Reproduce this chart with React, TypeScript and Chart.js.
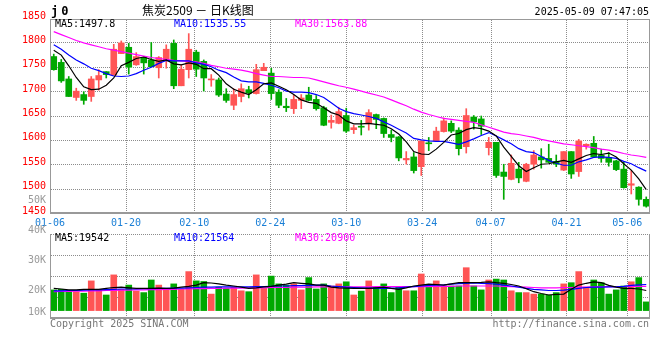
import React, { useEffect, useRef } from 'react';
import { Chart, registerables } from 'chart.js';

Chart.register(...registerables);

// ---------- data ----------
const dates = [
  '01-06','01-07','01-08','01-09','01-10','01-13','01-14','01-15','01-16','01-17',
  '01-20','01-21','01-22','01-23','01-24','01-27','02-05','02-06','02-07','02-10',
  '02-11','02-12','02-13','02-14','02-17','02-18','02-19','02-20','02-21','02-24',
  '02-25','02-26','02-27','02-28','03-03','03-04','03-05','03-06','03-07','03-10',
  '03-11','03-12','03-13','03-14','03-17','03-18','03-19','03-20','03-21','03-24',
  '03-25','03-26','03-27','03-28','03-31','04-01','04-02','04-03','04-07','04-08',
  '04-09','04-10','04-11','04-14','04-15','04-16','04-17','04-18','04-21','04-22',
  '04-23','04-24','04-25','04-28','04-29','04-30','05-06','05-07','05-08','05-09',
];

const opens = [
  1771,1759,1725,1687,1693,1689,1723,1740,1733,1777,
  1790,1754,1769,1764,1748,1765,1798,1711,1744,1780,
  1761,1723,1723,1694,1671,1689,1703,1695,1742,1737,
  1698,1669,1664,1681,1692,1683,1666,1636,1634,1650,
  1621,1628,1633,1652,1644,1611,1606,1559,1565,1545,
  1594,1598,1617,1634,1620,1586,1647,1643,1584,1595,
  1534,1519,1540,1515,1550,1565,1562,1556,1538,1576,
  1535,1588,1593,1569,1564,1557,1540,1507,1503,1478,
];
const highs = [
  1776,1765,1730,1706,1699,1730,1744,1740,1796,1803,
  1798,1779,1769,1800,1771,1795,1805,1754,1818,1784,
  1764,1734,1727,1705,1705,1715,1710,1755,1757,1747,
  1703,1685,1692,1693,1708,1691,1669,1651,1667,1665,
  1630,1640,1662,1653,1645,1620,1607,1576,1574,1598,
  1605,1626,1645,1639,1625,1664,1650,1649,1605,1595,
  1550,1569,1554,1552,1578,1582,1591,1569,1576,1576,
  1601,1592,1607,1581,1574,1558,1554,1537,1504,1483,
];
const lows = [
  1743,1718,1689,1681,1673,1679,1702,1727,1733,1777,
  1735,1753,1735,1750,1727,1747,1705,1711,1727,1730,
  1700,1710,1689,1677,1662,1678,1686,1694,1742,1683,
  1666,1658,1654,1664,1680,1661,1629,1624,1633,1615,
  1613,1610,1620,1623,1605,1596,1557,1550,1532,1527,
  1578,1597,1616,1615,1569,1573,1622,1611,1569,1523,
  1478,1518,1512,1514,1540,1542,1553,1545,1537,1521,
  1525,1581,1564,1554,1546,1537,1501,1489,1466,1462,
];
const closes = [
  1744,1721,1689,1700,1681,1725,1732,1734,1786,1799,
  1749,1771,1758,1750,1769,1786,1711,1745,1786,1745,
  1727,1724,1692,1681,1693,1705,1696,1744,1749,1695,
  1671,1666,1683,1686,1681,1664,1630,1640,1658,1618,
  1625,1626,1656,1642,1613,1605,1563,1562,1537,1598,
  1592,1618,1639,1618,1582,1650,1637,1628,1595,1527,
  1525,1552,1522,1550,1569,1559,1554,1550,1576,1530,
  1598,1591,1565,1562,1554,1539,1502,1510,1478,1464,
];

const ma5 = [
  1784,1774,1752,1728,1709,1703,1704,1712,1727,1752,
  1759,1767,1770,1765,1761,1764,1756,1754,1758,1755,
  1746,1746,1733,1715,1704,1698,1693,1703,1715,1717,
  1710,1703,1693,1682,1677,1675,1666,1656,1651,1639,
  1633,1633,1634,1632,1630,1623,1612,1596,1576,1571,
  1570,1581,1595,1610,1613,1621,1625,1623,1618,1608,
  1585,1566,1547,1535,1543,1550,1551,1555,1558,1554,
  1561,1568,1572,1570,1573,1565,1551,1538,1520,1498,
];
const ma10 = [
  1795,1786,1774,1764,1756,1747,1742,1736,1731,1730,
  1731,1736,1743,1749,1757,1763,1762,1762,1762,1758,
  1755,1750,1743,1738,1729,1721,1719,1719,1716,1712,
  1707,1700,1698,1698,1697,1693,1687,1676,1665,1658,
  1654,1651,1648,1644,1637,1630,1622,1614,1603,1600,
  1598,1597,1597,1594,1591,1596,1602,1609,1615,1608,
  1600,1592,1582,1576,1574,1566,1558,1552,1548,1548,
  1555,1559,1564,1565,1564,1562,1556,1551,1543,1536,
];
const ma30 = [
  1822,1816,1810,1804,1799,1795,1791,1787,1784,1781,
  1778,1775,1772,1769,1767,1765,1763,1762,1761,1760,
  1757,1753,1750,1747,1745,1743,1740,1736,1733,1730,
  1730,1729,1728,1728,1727,1723,1719,1715,1711,1708,
  1704,1700,1696,1692,1688,1682,1676,1670,1663,1657,
  1652,1648,1644,1642,1640,1638,1636,1631,1626,1621,
  1616,1613,1611,1608,1605,1601,1598,1595,1592,1590,
  1588,1586,1584,1581,1579,1576,1572,1569,1567,1564,
];

// volume in thousands (K)
const volumes = [
  19.7,19.9,19.4,19.1,18.6,22.7,19.9,18.0,24.7,19.9,
  21.3,19.3,18.8,23.0,21.3,19.9,21.7,19.9,25.8,22.7,
  22.5,18.3,20.6,20.2,20.6,19.4,19.1,24.7,20.2,24.3,
  21.7,21.3,21.7,19.7,23.8,20.0,21.7,21.0,21.7,22.4,
  18.0,19.3,22.7,20.5,21.7,18.8,20.6,19.4,19.4,25.0,
  21.0,22.7,21.0,21.0,21.0,27.1,21.0,19.7,23.0,23.3,
  23.0,19.4,18.8,18.8,18.3,18.3,18.0,18.8,21.7,22.1,
  25.8,20.6,23.0,22.1,18.3,19.7,21.0,22.4,23.8,15.7,
];
const volMa5 = [
  20.2,20.0,19.7,19.7,19.9,19.9,19.9,20.2,20.5,20.6,
  20.4,20.2,20.2,20.2,20.3,20.2,20.3,20.6,20.9,21.3,
  22.1,22.0,21.7,21.3,21.0,20.6,20.2,20.4,20.7,20.9,
  21.3,21.6,22.1,21.9,21.7,21.3,21.3,20.6,20.4,20.3,
  20.2,20.2,20.2,20.4,20.6,20.2,19.9,20.4,21.0,21.3,
  21.6,21.5,21.3,21.7,22.1,22.1,22.1,22.2,22.4,22.1,
  21.9,21.5,21.0,20.1,19.1,18.5,18.0,18.2,18.3,19.9,
  21.3,21.9,22.4,22.1,21.2,20.6,20.2,20.2,20.0,19.5,
];
const volMa10 = [
  19.4,19.4,19.5,19.5,19.6,19.7,19.7,19.8,19.9,20.0,
  20.0,20.0,20.1,20.1,20.2,20.2,20.3,20.3,20.4,20.5,
  20.6,20.6,20.7,20.7,20.7,20.7,20.7,20.8,20.8,20.9,
  21.0,21.0,21.1,21.1,21.2,21.3,21.3,21.0,20.8,20.6,
  20.5,20.4,20.3,20.3,20.2,20.3,20.4,20.6,20.8,21.0,
  21.2,21.3,21.4,21.6,21.8,21.9,22.0,21.9,21.8,21.6,
  21.3,21.0,20.6,20.2,19.9,19.7,19.5,19.5,19.6,19.9,
  20.2,20.5,20.6,20.6,20.7,20.7,20.9,21.2,21.4,21.5,
];
const volMa30 = [
  19.1,19.2,19.2,19.3,19.3,19.4,19.4,19.5,19.5,19.6,
  19.6,19.7,19.7,19.8,19.8,19.9,19.9,20.0,20.0,20.1,
  20.1,20.2,20.2,20.3,20.3,20.3,20.4,20.4,20.4,20.5,
  20.5,20.5,20.6,20.6,20.6,20.7,20.7,20.7,20.7,20.7,
  20.7,20.7,20.7,20.8,20.8,20.8,20.8,20.8,20.8,20.8,
  20.8,20.9,20.9,20.9,21.0,21.0,21.0,21.0,21.0,21.0,
  20.9,20.8,20.7,20.6,20.5,20.4,20.4,20.4,20.5,20.5,
  20.6,20.6,20.7,20.7,20.8,20.8,20.8,20.9,20.9,20.9,
];

const priceTicks = [1450, 1500, 1550, 1600, 1650, 1700, 1750, 1800, 1850];
const volTicks = [10, 20, 30, 40, 50];
const volGridTicks = [0, 1, 2, 3, 4];
const dateTicks = ['01-06', '01-20', '02-10', '02-24', '03-10', '03-24', '04-07', '04-21', '05-06'];

// ---------- style ----------
const PRICE_MIN = 1450;
const PRICE_MAX = 1848;
const VOL_MIN = 10.33;
const VOL_MAX = 38.33;
const VOL_BASE = 12.8;
const UP = '#ff5555';
const DOWN = '#00a800';
const GRID = '#8c8c8c';
const FRAME = '#999999';
const MONO = '"DejaVu Sans Mono", "Liberation Mono", monospace';

const candleColors = closes.map((c, i) => (c >= opens[i] ? UP : DOWN));

// dotted grid (only on background pixels, so it stays visually behind the marks) + frame
const panelPlugin = (yId: string, yValues: number[], drawTop: boolean) => ({
  id: 'panel',
  afterDraw(chart: any) {
    const { ctx, chartArea: a } = chart;
    const ys = chart.scales[yId];
    const xs = chart.scales.xg;
    const L = Math.round(a.left);
    const R = Math.round(a.right);
    const Tp = Math.round(a.top);
    const B = Math.round(a.bottom);
    const W = ctx.canvas.width;
    const H = ctx.canvas.height;
    let data: Uint8ClampedArray | null = null;
    try {
      data = ctx.getImageData(0, 0, W, H).data;
    } catch (e) {
      data = null;
    }
    const isBg = (x: number, y: number) => {
      if (!data) return true;
      const i = (y * W + x) * 4;
      return data[i + 3] < 40 || (data[i] > 235 && data[i + 1] > 235 && data[i + 2] > 235);
    };

    ctx.save();
    ctx.globalCompositeOperation = 'source-over';
    ctx.globalAlpha = 1;
    ctx.fillStyle = GRID;
    for (const v of yValues) {
      const py = Math.round(ys.getPixelForValue(v));
      if (!Number.isFinite(py) || py < Tp || py >= B - 1) continue;
      for (let x = L + 1; x < R - 1; x += 2) if (isBg(x, py)) ctx.fillRect(x, py, 1, 1);
    }
    for (const d of dateTicks) {
      const px = Math.round(xs.getPixelForValue(dates.indexOf(d)));
      if (!Number.isFinite(px) || px <= L + 1 || px >= R - 1) continue;
      for (let y = Tp + 1; y < B - 1; y += 2) if (isBg(px, y)) ctx.fillRect(px, y, 1, 1);
    }
    ctx.restore();

    ctx.save();
    ctx.fillStyle = FRAME;
    ctx.fillRect(L, Tp, 1, B - Tp);
    ctx.fillRect(R - 1, Tp, 1, B - Tp);
    if (drawTop) ctx.fillRect(L, Tp, R - L, 1);
    ctx.fillRect(L, B - 1, R - L, 2);
    ctx.restore();
  },
});

const volLabelPlugin = {
  id: 'volLabels',
  afterDraw(chart: any) {
    const { ctx, chartArea: a } = chart;
    const ys = chart.scales.y;
    ctx.save();
    ctx.fillStyle = '#9a9a9a';
    ctx.font = `10px ${MONO}`;
    ctx.textAlign = 'right';
    ctx.textBaseline = 'middle';
    volTicks.forEach((v) => {
      const py = Math.min(ys.getPixelForValue(v), a.bottom - 7);
      ctx.fillText(`${v}K`, a.left - 4, py + 1);
    });
    ctx.restore();
  },
};

const dateAxis = (showLabels: boolean, height: number) => ({
  type: 'linear' as const,
  position: 'bottom' as const,
  offset: false,
  min: 0,
  max: dates.length - 1,
  afterBuildTicks: (s: any) => {
    s.ticks = dateTicks.map((d) => ({ value: dates.indexOf(d) }));
  },
  afterFit: (s: any) => {
    s.height = height;
    s.paddingLeft = 0;
    s.paddingRight = 0;
  },
  grid: { display: false, offset: false, drawTicks: false },
  border: { display: false },
  ticks: {
    display: showLabels,
    color: '#1a7fd6',
    font: { family: MONO, size: 10 },
    padding: 4,
    autoSkip: false,
    maxRotation: 0,
    callback: (v: any) => dates[v as number],
  },
});

const lineDs = (label: string, data: number[], color: string) => ({
  type: 'line' as const,
  label,
  data,
  borderColor: color,
  backgroundColor: color,
  borderWidth: 1.2,
  pointRadius: 0,
  tension: 0,
  fill: false,
  order: 0,
  xAxisID: 'x',
  yAxisID: 'y',
});

function T(props: any) {
  const { x, y, children, color = '#000', size = 10, align = 'left', weight = 400, family = MONO, ls = 0 } = props;
  const style: any = {
    position: 'absolute',
    top: y,
    transform: 'translateY(-50%)',
    fontFamily: family,
    fontSize: size,
    fontWeight: weight,
    lineHeight: 1,
    whiteSpace: 'pre',
    letterSpacing: ls,
    color,
  };
  if (align === 'right') style.right = 660 - x;
  else style.left = x;
  return <div style={style}>{children}</div>;
}

export default function App() {
  const priceRef = useRef<HTMLCanvasElement>(null);
  const volRef = useRef<HTMLCanvasElement>(null);

  useEffect(() => {
    const priceChart = new Chart(priceRef.current as HTMLCanvasElement, {
      type: 'bar',
      data: {
        labels: dates,
        datasets: [
          lineDs('MA5', ma5, '#000000'),
          lineDs('MA10', ma10, '#0000ff'),
          lineDs('MA30', ma30, '#ff00ff'),
          {
            type: 'bar',
            label: 'body',
            data: opens.map((o, i) => [Math.min(o, closes[i]), Math.max(o, closes[i])]),
            backgroundColor: candleColors,
            borderWidth: 0,
            barThickness: 6,
            minBarLength: 1,
            grouped: false,
            order: 1,
            xAxisID: 'x',
            yAxisID: 'y',
          } as any,
          {
            type: 'bar',
            label: 'wick',
            data: lows.map((l, i) => [l, highs[i]]),
            backgroundColor: candleColors,
            borderWidth: 0,
            barThickness: 1,
            grouped: false,
            order: 2,
            xAxisID: 'x',
            yAxisID: 'y',
          } as any,
        ],
      },
      options: {
        animation: false,
        responsive: false,
        maintainAspectRatio: false,
        events: [],
        layout: { padding: { top: 19, right: 10, left: 0, bottom: 0 } },
        plugins: { legend: { display: false }, tooltip: { enabled: false } },
        scales: {
          x: { type: 'category', display: false, offset: true },
          xg: dateAxis(true, 19) as any,
          y: {
            type: 'linear',
            position: 'left',
            min: PRICE_MIN,
            max: PRICE_MAX,
            afterBuildTicks: (s: any) => {
              s.ticks = priceTicks.map((v) => ({ value: v }));
            },
            afterFit: (s: any) => {
              s.width = 50;
            },
            grid: { display: false, drawTicks: false },
            border: { display: false },
            ticks: {
              color: '#ff0000',
              font: { family: MONO, size: 10 },
              padding: 4,
              labelOffset: -2,
              autoSkip: false,
              callback: (v: any) => String(v),
            },
          },
        },
      } as any,
      plugins: [panelPlugin('y', priceTicks, true)],
    });

    const volChart = new Chart(volRef.current as HTMLCanvasElement, {
      type: 'bar',
      data: {
        labels: dates,
        datasets: [
          lineDs('VMA5', volMa5, '#000000'),
          lineDs('VMA10', volMa10, '#0000ff'),
          lineDs('VMA30', volMa30, '#ff00ff'),
          {
            type: 'bar',
            label: 'vol',
            data: volumes,
            base: VOL_BASE,
            backgroundColor: candleColors,
            borderWidth: 0,
            barThickness: 6,
            grouped: false,
            order: 1,
            xAxisID: 'x',
            yAxisID: 'y',
          } as any,
        ],
      },
      options: {
        animation: false,
        responsive: false,
        maintainAspectRatio: false,
        events: [],
        layout: { padding: { top: 44, right: 10, left: 0, bottom: 42 } },
        plugins: { legend: { display: false }, tooltip: { enabled: false } },
        scales: {
          x: { type: 'category', display: false, offset: true },
          xg: dateAxis(false, 0) as any,
          y: { type: 'linear', display: false, min: VOL_MIN, max: VOL_MAX },
          yg: {
            type: 'linear',
            position: 'left',
            min: 0,
            max: 4,
            afterFit: (s: any) => {
              s.width = 50;
            },
            grid: { display: false, drawTicks: false },
            border: { display: false },
            ticks: { display: false, stepSize: 1 },
          },
        },
      } as any,
      plugins: [panelPlugin('yg', volGridTicks, false), volLabelPlugin],
    });

    return () => {
      priceChart.destroy();
      volChart.destroy();
    };
  }, []);

  return (
    <div
      style={{
        position: 'fixed',
        left: 0,
        top: 0,
        width: 660,
        height: 360,
        background: '#fff',
        overflow: 'hidden',
      }}
    >
      <canvas
        ref={priceRef}
        width={660}
        height={232}
        style={{ position: 'absolute', left: 0, top: 0, width: 660, height: 232 }}
      />
      <canvas
        ref={volRef}
        width={660}
        height={170}
        style={{ position: 'absolute', left: 0, top: 190, width: 660, height: 170 }}
      />
      <T x={51} y={10.5} size={12} weight={700} ls={3}>j0</T>
      <T x={142} y={10} size={12} family='"Noto Sans CJK SC", sans-serif'>焦炭2509 － 日K线图</T>
      <T x={649} y={12} align="right">2025-05-09 07:47:05</T>
      <T x={55} y={24}>MA5:1497.8</T>
      <T x={174} y={24} color="#0000ff">MA10:1535.55</T>
      <T x={295} y={24} color="#ff00ff">MA30:1563.88</T>
      <T x={55} y={238}>MA5:19542</T>
      <T x={174} y={238} color="#0000ff">MA10:21564</T>
      <T x={295} y={238} color="#ff00ff">MA30:20900</T>
      <T x={50} y={324} color="#777">Copyright 2025 SINA.COM</T>
      <T x={649} y={324} align="right" color="#777">http://finance.sina.com.cn</T>
    </div>
  );
}
